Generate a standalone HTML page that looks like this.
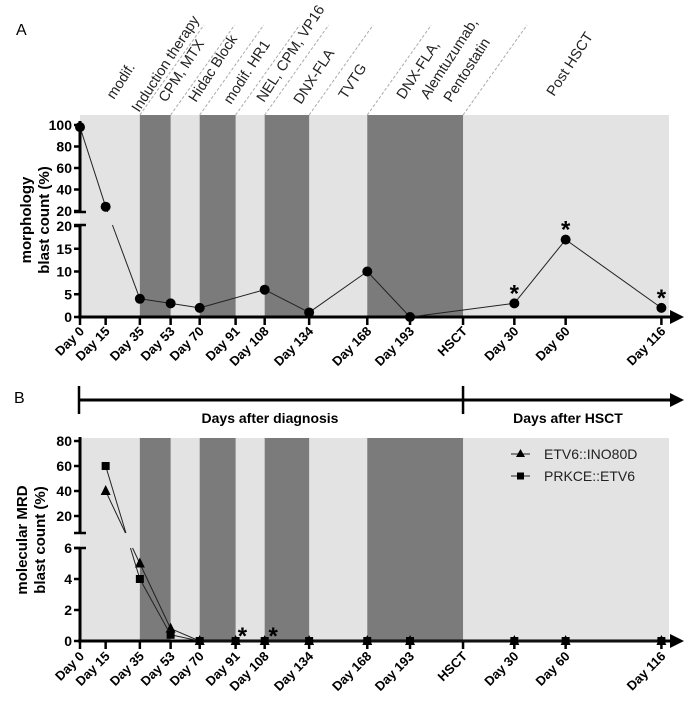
<!DOCTYPE html>
<html><head><meta charset="utf-8"><style>
body{margin:0;background:#fff}
svg{display:block;font-family:"Liberation Sans",sans-serif}
</style></head><body>
<svg id="c" width="685" height="709" viewBox="0 0 685 709"></svg>
<script>
// ---- data ----
const tickDays=[0,15,35,53,70,91,108,134,168,193,224,254,284,340];
const tickLabels=["Day 0","Day 15","Day 35","Day 53","Day 70","Day 91","Day 108","Day 134","Day 168","Day 193","HSCT","Day 30","Day 60","Day 116"];
const bandStarts=[35,70,108,168];
const bandEnds=[53,91,134,224];
const morphDays=[0,15,35,53,70,108,134,168,193,254,284,340];
const morphVals=[98,24,4,3,2,6,1,10,0,3,17,2];
const morphStarDays=[254,284,340];
const triDays=[15,35,53,70,91,108,134,168,193,254,284,340];
const triVals=[40,5,0.8,0,0,0,0,0,0,0,0,0];
const sqDays=[15,35,53,70,91,108,134,168,193,254,284,340];
const sqVals=[60,4,0.4,0,0,0,0,0,0,0,0,0];
const mrdStarDays=[95,113];
const therapyLabels=["modif.","Induction therapy","CPM, MTX","Hidac Block","modif. HR1","NEL, CPM, VP16","DNX-FLA","TVTG","DNX-FLA,","Alemtuzumab,","Pentostatin","Post HSCT"];
const therapyX=[114,139,166,196,231,264,301,346,404,428,451,554];
const therapyY=[100,113,103,103,105,103,105,100,100,100,103,97];
const dashDays=[35,53,70,91,108,134,168,224];

const NS="http://www.w3.org/2000/svg";
const svg=document.getElementById('c');
function mk(tag,attrs,parent){const e=document.createElementNS(NS,tag);for(const k in attrs)e.setAttribute(k,attrs[k]);(parent||svg).appendChild(e);return e;}
const X=d=>80+d*1.71;
const xEnd=669;
const A={top:115,bot:317,up:v=>125+(100-v)*86/80,lo:v=>317-v*4.55,split:20,gapTop:212,gapBot:225};
const B={top:438,bot:641,up:v=>441+(80-v)*1.25,lo:v=>641-v*15.5,split:6.4,gapTop:533,gapBot:548};
function Y(p,v){return v>=p.split?p.up(v):p.lo(v);}

function panel(p,name){
  const g=mk('g',{});
  
  
  mk('rect',{x:80,y:p.top,width:xEnd-80,height:p.bot-p.top,fill:'#e3e3e3'},g);
  for(let i=0;i<bandStarts.length;i++){
    const r=mk('rect',{x:X(bandStarts[i]),y:p.top,width:X(bandEnds[i])-X(bandStarts[i]),height:p.bot-p.top,fill:'#7b7b7b'},g);
    
    
  }
}
function xAxis(p,name,labelY){
  const g=mk('g',{});
  
  
  mk('line',{x1:78,y1:p.bot,x2:672,y2:p.bot,stroke:'#000','stroke-width':3},g);
  mk('polygon',{points:`670,${p.bot-7} 684,${p.bot} 670,${p.bot+7}`,fill:'#000'},g);
  tickDays.forEach((d,i)=>{
    mk('line',{x1:X(d),y1:p.bot,x2:X(d),y2:p.bot+8,stroke:'#000','stroke-width':2.5},g);
    const t=mk('text',{x:X(d)+5,y:labelY,'text-anchor':'end','font-size':13,'font-weight':'bold',transform:`rotate(-45 ${X(d)+5} ${labelY})`},g);
    t.textContent=tickLabels[i];
    
    
  });
}
function yAxis(p,upTicks,loTicks,name){
  const g=mk('g',{});
  
  
  mk('line',{x1:80,y1:p.up(upTicks[upTicks.length-1])-4,x2:80,y2:p.gapTop,stroke:'#000','stroke-width':3},g);
  mk('line',{x1:80,y1:p.gapBot,x2:80,y2:p.bot,stroke:'#000','stroke-width':3},g);
  mk('line',{x1:74,y1:p.gapTop,x2:86,y2:p.gapTop,stroke:'#000','stroke-width':2.5},g);
  mk('line',{x1:74,y1:p.gapBot,x2:86,y2:p.gapBot,stroke:'#000','stroke-width':2.5},g);
  const tick=(y,v)=>{
    mk('line',{x1:74,y1:y,x2:80,y2:y,stroke:'#000','stroke-width':2.5},g);
    const t=mk('text',{x:72,y:y+5,'text-anchor':'end','font-size':14,'font-weight':'bold'},g);
    t.textContent=v;
    
    
  };
  upTicks.forEach(v=>tick(p.up(v),v));
  loTicks.forEach(v=>tick(p.lo(v),v));
}
function series(p,days,vals,marker,name){
  const g=mk('g',{});
  
  
  for(let i=0;i<days.length-1;i++){
    const x1=X(days[i]),y1=Y(p,vals[i]),x2=X(days[i+1]),y2=Y(p,vals[i+1]);
    const a=vals[i]>=p.split, b=vals[i+1]>=p.split;
    if(a&&!b){
      const f1=(p.gapTop-y1)/(y2-y1), f2=(p.gapBot-y1)/(y2-y1);
      mk('line',{x1,y1,x2:x1+(x2-x1)*f1,y2:p.gapTop,stroke:'#222','stroke-width':1},g);
      mk('line',{x1:x1+(x2-x1)*f2,y1:p.gapBot,x2,y2,stroke:'#222','stroke-width':1},g);
    } else mk('line',{x1,y1,x2,y2,stroke:'#222','stroke-width':1},g);
  }
  days.forEach((d,i)=>{
    const x=X(d),y=Y(p,vals[i]);let m;
    if(marker==='circle')m=mk('circle',{cx:x,cy:y,r:5,fill:'#000'},g);
    else if(marker==='tri')m=mk('polygon',{points:`${x},${y-6} ${x+5},${y+4} ${x-5},${y+4}`,fill:'#000'},g);
    else m=mk('rect',{x:x-4,y:y-4,width:8,height:8,fill:'#000'},g);
    
    
  });
}
function star(x,y){const t=mk('text',{x,y,'text-anchor':'middle','font-size':24,'font-weight':'bold'});t.textContent='*';
  }

// Panel A
panel(A,'panel-a');
dashDays.forEach(d=>{
  const l=mk('line',{x1:X(d),y1:115,x2:X(d)+64,y2:25,stroke:'#aaa','stroke-width':1,'stroke-dasharray':'3,2'});
  
  
});
therapyLabels.forEach((s,i)=>{
  const t=mk('text',{x:therapyX[i],y:therapyY[i],'font-size':14.5,fill:'#222',transform:`rotate(-57 ${therapyX[i]} ${therapyY[i]})`});
  t.textContent=s;
  
  
});
let t=mk('text',{x:16,y:35,'font-size':16});t.textContent='A';

xAxis(A,'panel-a-x-axis',332);
yAxis(A,[20,40,60,80,100],[0,5,10,15,20],'panel-a-y-axis');
series(A,morphDays,morphVals,'circle','morphology-series');
morphStarDays.forEach((d,i)=>star(X(d),Y(A,morphVals[morphDays.indexOf(d)])-2));
t=mk('text',{x:0,y:0,'font-size':15,'font-weight':'bold','text-anchor':'middle',transform:'translate(40,220) rotate(-90)'});
t.innerHTML='<tspan x="0" dy="-9">morphology</tspan><tspan x="0" dy="18">blast count (%)</tspan>';


// Timeline
const tl=mk('g',{});
mk('line',{x1:79,y1:400,x2:672,y2:400,stroke:'#000','stroke-width':3},tl);
mk('polygon',{points:'670,393 684,400 670,407',fill:'#000'},tl);
mk('line',{x1:79,y1:386,x2:79,y2:414,stroke:'#000','stroke-width':2.5},tl);
mk('line',{x1:X(224),y1:386,x2:X(224),y2:414,stroke:'#000','stroke-width':2.5},tl);
t=mk('text',{x:270,y:423,'text-anchor':'middle','font-size':14,'font-weight':'bold'},tl);t.textContent='Days after diagnosis';

t=mk('text',{x:568,y:423,'text-anchor':'middle','font-size':14,'font-weight':'bold'},tl);t.textContent='Days after HSCT';

t=mk('text',{x:14,y:403,'font-size':16});t.textContent='B';


// Panel B
panel(B,'panel-b');
xAxis(B,'panel-b-x-axis',657);
yAxis(B,[20,40,60,80],[0,2,4,6],'panel-b-y-axis');
series(B,triDays,triVals,'tri','etv6-ino80d-series');
series(B,sqDays,sqVals,'sq','prkce-etv6-series');
mrdStarDays.forEach(d=>star(X(d),644));
t=mk('text',{x:0,y:0,'font-size':15,'font-weight':'bold','text-anchor':'middle',transform:'translate(36,540) rotate(-90)'});
t.innerHTML='<tspan x="0" dy="-9">molecular MRD</tspan><tspan x="0" dy="18">blast count (%)</tspan>';

// legend
const lg=mk('g',{});
mk('line',{x1:511,y1:454,x2:530,y2:454,stroke:'#222','stroke-width':1},lg);
mk('polygon',{points:'520.5,449 525,457 516,457',fill:'#000'},lg);
t=mk('text',{x:544,y:459,'font-size':14,fill:'#222'},lg);t.textContent='ETV6::INO80D';

mk('line',{x1:511,y1:476,x2:530,y2:476,stroke:'#222','stroke-width':1},lg);
mk('rect',{x:517,y:472.5,width:7,height:7,fill:'#000'},lg);
t=mk('text',{x:544,y:481,'font-size':14,fill:'#222'},lg);t.textContent='PRKCE::ETV6';

</script>
</body></html>
